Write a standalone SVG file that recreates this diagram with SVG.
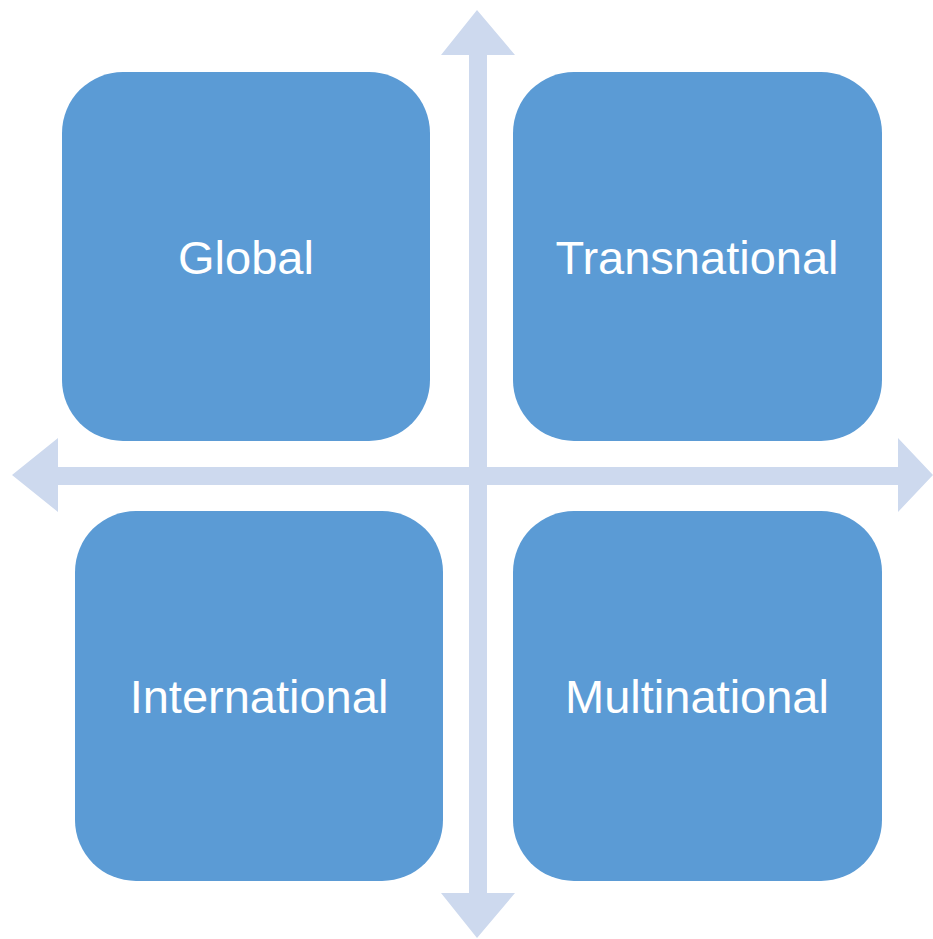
<svg xmlns="http://www.w3.org/2000/svg" width="933" height="939" viewBox="0 0 933 939">
<style>
.box{fill:#5B9BD5;}
.lbl{fill:#FFFFFF;font-family:"Liberation Sans",Arial,sans-serif;font-size:47px;text-anchor:middle;}
.axis{fill:#CDD9EE;}
</style>
<rect width="933" height="939" fill="#FFFFFF"/>
<g id="connectors">
<polygon class="axis" points="477,10 515,55 487,55 487,467 898,467 898,438 933,475 898,512 898,485 487,485 487,893 515,893 477,938 441,893 469,893 469,485 58,485 58,512 12,475 58,438 58,467 469,467 469,55 441,55"/>
</g>
<g id="global">
<rect class="box" x="62" y="72" width="368" height="369" rx="61" ry="61"/>
<text class="lbl" x="246" y="274">Global</text>
</g>
<g id="transnational">
<rect class="box" x="513" y="72" width="369" height="369" rx="61" ry="61"/>
<text class="lbl" x="697" y="274">Transnational</text>
</g>
<g id="international">
<rect class="box" x="75" y="511" width="368" height="370" rx="61" ry="61"/>
<text class="lbl" x="259" y="713">International</text>
</g>
<g id="multinational">
<rect class="box" x="513" y="511" width="369" height="370" rx="61" ry="61"/>
<text class="lbl" x="697" y="713">Multinational</text>
</g>
</svg>
